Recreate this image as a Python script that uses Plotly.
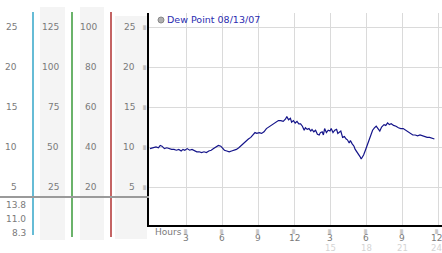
import plotly.graph_objects as go

W, H = 442, 253

hours = [0.0, 0.25, 0.5, 0.7, 0.85, 1.0, 1.2, 1.4, 1.6, 1.8, 2.0, 2.2, 2.4, 2.6, 2.75, 2.9,
         3.1, 3.3, 3.5, 3.7, 3.9, 4.1, 4.3, 4.5, 4.7, 4.9, 5.1, 5.3, 5.5, 5.7, 5.9, 6.0,
         6.2, 6.4, 6.6, 6.8, 7.0, 7.2, 7.4, 7.6, 7.8, 8.0, 8.2, 8.4, 8.6, 8.75, 8.9, 9.1,
         9.3, 9.5, 9.7, 9.9, 10.1, 10.3, 10.5, 10.7, 10.9, 11.1, 11.3, 11.4, 11.55, 11.7,
         11.8, 11.95, 12.1, 12.25, 12.4, 12.55, 12.7, 12.85, 12.95, 13.1, 13.25, 13.4, 13.5,
         13.65, 13.8, 13.95, 14.1, 14.2, 14.35, 14.45, 14.55, 14.7, 14.85, 15.0, 15.1, 15.25,
         15.4, 15.55, 15.65, 15.8, 15.9, 16.05, 16.2, 16.35, 16.45, 16.6, 16.7, 16.85, 17.0,
         17.1, 17.25, 17.4, 17.5, 17.6, 17.7, 17.8, 17.95, 18.1, 18.25, 18.4, 18.55, 18.7,
         18.85, 19.0, 19.15, 19.3, 19.5, 19.65, 19.8, 19.95, 20.1, 20.3, 20.5, 20.7, 20.9,
         21.1, 21.3, 21.5, 21.7, 21.9, 22.1, 22.3, 22.5, 22.7, 22.9, 23.1, 23.3, 23.5, 23.7]
dew_point = [9.8, 9.9, 10.0, 9.9, 10.2, 10.1, 9.8, 9.9, 9.8, 9.7, 9.7, 9.6, 9.7, 9.5, 9.7, 9.6,
             9.8, 9.6, 9.7, 9.5, 9.4, 9.4, 9.3, 9.4, 9.3, 9.5, 9.6, 9.8, 10.0, 10.2, 10.1, 9.9,
             9.6, 9.5, 9.4, 9.5, 9.6, 9.7, 9.9, 10.2, 10.4, 10.7, 11.0, 11.2, 11.5, 11.8, 11.7, 11.8,
             11.7, 11.9, 12.3, 12.5, 12.8, 13.0, 13.2, 13.3, 13.3, 13.2, 13.5, 13.8, 13.4, 13.6,
             13.1, 13.3, 13.0, 13.2, 12.9, 12.9, 12.6, 12.1, 12.4, 12.2, 12.3, 12.0, 12.2,
             11.9, 12.1, 11.6, 11.5, 11.8, 11.9, 11.5, 12.3, 11.8, 12.1, 12.0, 12.3, 11.8,
             12.1, 12.2, 11.7, 11.9, 12.0, 11.2, 11.3, 11.0, 10.9, 10.5, 10.8, 10.4, 10.1,
             9.7, 9.4, 9.0, 8.8, 8.5, 8.7, 9.0, 9.6, 10.3, 10.9, 11.6, 12.1, 12.4,
             12.6, 12.3, 12.0, 12.5, 12.8, 12.7, 13.0, 12.8, 12.9, 12.7, 12.6, 12.4, 12.3,
             12.3, 12.1, 11.9, 11.7, 11.5, 11.5, 11.4, 11.5, 11.4, 11.3, 11.2, 11.2, 11.1, 11.0]

x_tick_vals = [3, 6, 9, 12, 15, 18, 21, 24]
x_tick_text = ["3", "6", "9", "12", "3", "6", "9", "12"]
x_tick_text2 = ["15", "18", "21", "24"]
y_tick_vals = [5, 10, 15, 20, 25]
col1_labels = ["5", "10", "15", "20", "25"]
col2_labels = ["25", "50", "75", "100", "125"]
col3_labels = ["20", "40", "60", "80", "100"]
col4_labels = ["5", "10", "15", "20", "25"]
bottom_labels = ["13.8", "11.0", "8.3"]
legend_title = "Dew Point 08/13/07"
tick_glyph = "▒"


def px(x):
    return x / W


def py(y):
    return 1 - y / H


def val_to_y(v):
    return 227 - 8 * v


FONT = "DejaVu Sans"
GREY = "#7a7a7a"

fig = go.Figure()
fig.add_trace(go.Scatter(x=hours, y=dew_point, mode="lines",
                         line=dict(color="#14148a", width=1.2), showlegend=False,
                         hoverinfo="skip"))

shapes = []
annotations = []

# left panel backgrounds
for x0, x1, y0, y1 in [(40, 65, 7, 240), (80, 104, 7, 240), (115, 147, 16, 239)]:
    shapes.append(dict(type="rect", xref="paper", yref="paper", x0=px(x0), x1=px(x1),
                       y0=py(y1), y1=py(y0), fillcolor="#f4f4f4", line=dict(width=0),
                       layer="below"))
# colored vertical lines
for x, col, y1 in [(33, "#33a6c8", 235), (72, "#3a9a3a", 237), (111, "#b03030", 237)]:
    shapes.append(dict(type="line", xref="paper", yref="paper", x0=px(x), x1=px(x),
                       y0=py(y1), y1=py(12), line=dict(color=col, width=1.5)))
# horizontal grey separator
shapes.append(dict(type="line", xref="paper", yref="paper", x0=0, x1=px(149),
                   y0=py(197), y1=py(197), line=dict(color="#9a9a9a", width=2)))

# left panel labels
for i, v in enumerate(y_tick_vals):
    yy = py(val_to_y(v))
    for xr, labels in [(19, col1_labels), (61, col2_labels), (99, col3_labels), (137, col4_labels)]:
        annotations.append(dict(x=px(xr), y=yy, xref="paper", yref="paper", text=labels[i],
                                showarrow=False, xanchor="right", yanchor="middle",
                                font=dict(family=FONT, size=9, color=GREY)))
    annotations.append(dict(x=px(145), y=yy, xref="paper", yref="paper", text=tick_glyph,
                            showarrow=False, xanchor="center", yanchor="middle", borderpad=0,
                            font=dict(family=FONT, size=4, color="#9a9a9a")))

for i, (t, y) in enumerate(zip(bottom_labels, [205, 219, 233])):
    annotations.append(dict(x=px(28), y=py(y), xref="paper", yref="paper", text=t,
                            showarrow=False, xanchor="right", yanchor="middle",
                            font=dict(family=FONT, size=9, color=GREY)))

# x tick labels
for i, h in enumerate(x_tick_vals):
    last = (i == len(x_tick_vals) - 1)
    annotations.append(dict(x=h if not last else 23.92, y=py(231), xref="x", yref="paper",
                            text=tick_glyph, showarrow=False, xanchor="center",
                            yanchor="middle", borderpad=0,
                            font=dict(family=FONT, size=4, color="#9a9a9a")))
    annotations.append(dict(x=px(443) if last else h, y=py(238),
                            xref="paper" if last else "x", yref="paper", text=x_tick_text[i],
                            showarrow=False, xanchor="right" if last else "center",
                            yanchor="middle", borderpad=0,
                            font=dict(family=FONT, size=9, color=GREY)))
for i, t in enumerate(x_tick_text2):
    last = (i == len(x_tick_text2) - 1)
    annotations.append(dict(x=px(443) if last else x_tick_vals[4 + i], y=py(247.5),
                            xref="paper" if last else "x", yref="paper", text=t,
                            showarrow=False, xanchor="right" if last else "center",
                            yanchor="middle", borderpad=0,
                            font=dict(family=FONT, size=8.5, color="#d4d4d4")))
annotations.append(dict(x=px(153), y=py(232), xref="paper", yref="paper", text="Hours",
                        showarrow=False, xanchor="left", yanchor="middle",
                        font=dict(family=FONT, size=9, color=GREY)))

# legend
shapes.append(dict(type="circle", xref="paper", yref="paper", x0=px(158), x1=px(164),
                   y0=py(23), y1=py(17), fillcolor="#b0b0b0", line=dict(color="#888888", width=1)))
annotations.append(dict(x=px(165), y=py(20), xref="paper", yref="paper", text=legend_title,
                        showarrow=False, xanchor="left", yanchor="middle",
                        font=dict(family=FONT, size=9.5, color="#2b2bb0")))

fig.update_layout(
    width=W, height=H, margin=dict(l=0, r=0, t=0, b=0),
    paper_bgcolor="white", plot_bgcolor="white",
    shapes=shapes, annotations=annotations, showlegend=False,
    xaxis=dict(domain=[px(149), 1], range=[-1 / 12, 24 + 4 / 12], tickvals=x_tick_vals,
               showticklabels=False, ticks="", showgrid=True, gridcolor="#dadada",
               gridwidth=1, zeroline=False, showline=True, linecolor="black", linewidth=2,
               fixedrange=True),
    yaxis=dict(domain=[py(225), py(13)], range=[0.25, 26.75], tickvals=y_tick_vals,
               showticklabels=False, ticks="", showgrid=True, gridcolor="#dadada",
               gridwidth=1, zeroline=False, showline=True, linecolor="black", linewidth=2,
               fixedrange=True),
)

fig.write_html("out.html", config={"displayModeBar": False})
